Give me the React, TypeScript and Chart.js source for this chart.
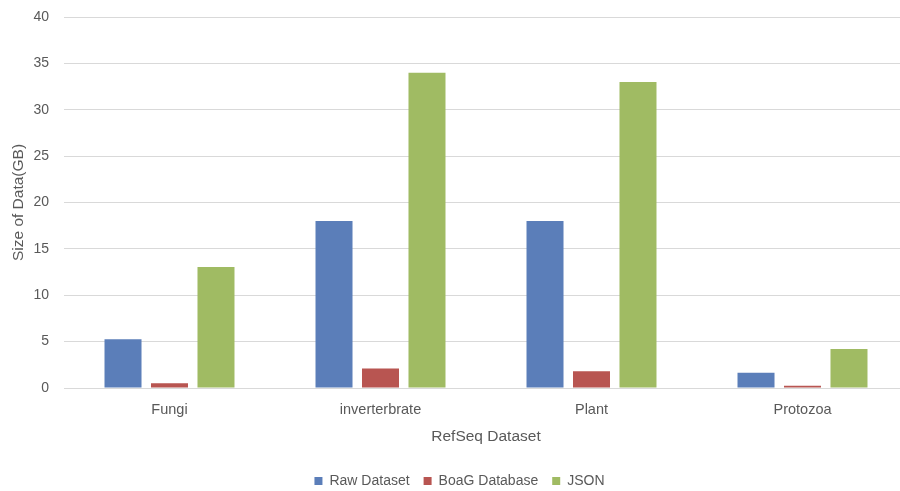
import React, { useEffect, useRef } from "react";
import { Chart, registerables } from "chart.js";

Chart.register(...registerables);

const categories = ["Fungi", "inverterbrate", "Plant", "Protozoa"];
const rawDataset = [5.25, 18, 18, 1.65];
const boagDatabase = [0.5, 2.1, 1.8, 0.25];
const jsonData = [13.05, 34, 33, 4.2];
const seriesNames = ["Raw Dataset", "BoaG Database", "JSON"];
const seriesColors = ["#5B7EB9", "#B85551", "#A0BB63"];

const FONT = "'Liberation Sans', Arial, sans-serif";
const TEXT = "#595959";
const GRID = "#D9D9D9";

export default function App() {
  const ref = useRef<HTMLCanvasElement | null>(null);

  useEffect(() => {
    if (!ref.current) return;
    const chart = new Chart(ref.current, {
      type: "bar",
      data: {
        labels: categories,
        datasets: [rawDataset, boagDatabase, jsonData].map((d, i) => ({
          label: seriesNames[i],
          data: d,
          backgroundColor: seriesColors[i],
          borderWidth: 0,
          categoryPercentage: 0.661,
          barPercentage: 0.796,
        })),
      },
      options: {
        responsive: false,
        animation: false,
        layout: { padding: { top: 17, left: 11, right: 11, bottom: 0 } },
        plugins: {
          tooltip: { enabled: false },
          legend: {
            position: "bottom",
            labels: {
              boxWidth: 8,
              boxHeight: 8,
              padding: 14,
              color: TEXT,
              font: { family: FONT, size: 14 },
            },
          },
        },
        scales: {
          x: {
            grid: { display: false, drawTicks: false },
            border: { display: true, color: GRID, width: 1 },
            ticks: { color: TEXT, padding: 13, font: { family: FONT, size: 14.5 } },
            title: {
              display: true,
              text: "RefSeq Dataset",
              color: TEXT,
              font: { family: FONT, size: 15.5 },
              padding: { top: 0, bottom: 14 },
            },
            afterFit: (scale: any) => {
              scale.height = 72;
            },
          },
          y: {
            min: 0,
            max: 40,
            ticks: { stepSize: 5, color: TEXT, padding: 15, font: { family: FONT, size: 14 } },
            grid: { color: GRID, lineWidth: 1, drawTicks: false },
            border: { display: false },
            title: {
              display: true,
              text: "Size of Data(GB)",
              color: TEXT,
              font: { family: FONT, size: 15.5, lineHeight: 1 },
              padding: { top: 0, bottom: 0 },
            },
            afterFit: (scale: any) => {
              scale.width = 53;
              scale.paddingTop = 0;
              scale.paddingBottom = 0;
            },
          },
        },
      },
    });
    return () => chart.destroy();
  }, []);

  return (
    <div
      style={{
        position: "fixed",
        left: 0,
        top: 0,
        width: 900,
        height: 491,
        overflow: "hidden",
        background: "#ffffff",
      }}
    >
      <canvas ref={ref} width={919} height={498} style={{ display: "block" }} />
    </div>
  );
}
